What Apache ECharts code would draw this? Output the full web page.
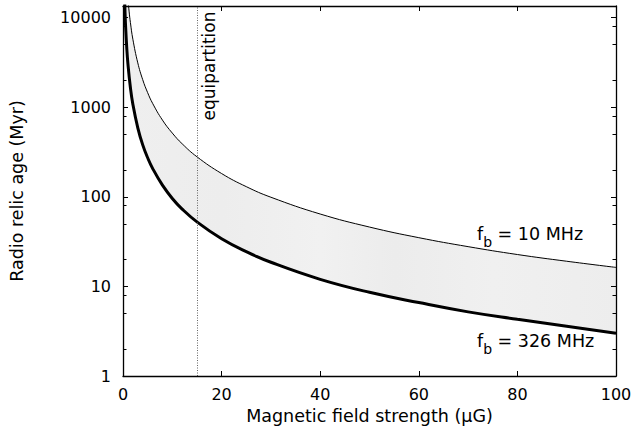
<!DOCTYPE html>
<html>
<head>
<meta charset="utf-8">
<script src="https://cdn.jsdelivr.net/npm/echarts@6/dist/echarts.min.js"></script>
<style>
  html, body { margin: 0; padding: 0; background: #fff; }
  #chart { width: 637px; height: 437px; }
</style>
</head>
<body>
<div id="chart"></div>
<script>
// Spectral age of the relic electrons vs. magnetic field strength,
// for two break frequencies.
const fieldHigh = [0.3, 0.5, 0.75, 1, 1.25, 1.5, 2, 3, 4, 5, 6, 8, 10, 12, 15, 20, 25, 30, 40, 50, 60, 70, 80, 90, 100];
const age10MHz  = [99000, 46000, 25000, 16300, 11600, 8850, 5750, 3130, 2030, 1455, 1107, 719, 515, 391, 280, 182, 130, 99, 64.3, 46, 35, 27.8, 22.7, 19.1, 16.3];

const fieldLow  = [0.3, 0.4, 0.5, 0.75, 1, 1.5, 2, 3, 4, 5, 6, 8, 10, 12, 15, 20, 25, 30, 40, 50, 60, 70, 80, 90, 100];
const age326MHz = [18500, 12000, 8600, 4700, 3050, 1660, 1080, 590, 380, 273, 208, 135, 96, 73, 52.5, 34, 24.4, 18.6, 12, 8.6, 6.6, 5.2, 4.3, 3.6, 3.0];

const equipartitionField = 15;

const xTicks = [0, 20, 40, 60, 80, 100];
const yMajorTicks = [1, 10, 100, 1000, 10000];
const yMinorTicks = [2, 5, 8, 20, 50, 80, 200, 500, 800, 2000, 5000, 8000];

const FONT = 'DejaVu Sans';
const yMin = 1, yMax = 13500;

const chart = echarts.init(document.getElementById('chart'), null, { renderer: 'svg' });

function pairs(xs, ys) { return xs.map((x, i) => [x, ys[i]]); }

const frameLine = { show: true, lineStyle: { color: '#000', width: 1.3 } };

function yAxisDef(opts) {
  return Object.assign({
    type: 'log', logBase: 10, min: yMin, max: yMax, z: 10,
    splitLine: { show: false },
    axisLine: { show: false },
    axisLabel: { show: false },
    axisTick: { show: false }
  }, opts);
}

const option = {
  animation: false,
  backgroundColor: '#fff',
  textStyle: { fontFamily: FONT },
  grid: { left: 122, right: 21, top: 6, bottom: 61, containLabel: false },
  xAxis: [
    {
      type: 'value', min: 0, max: 100, interval: 20, position: 'bottom', z: 10,
      name: 'Magnetic field strength (\u03bcG)',
      nameLocation: 'middle', nameGap: 30,
      nameTextStyle: { fontFamily: FONT, fontSize: 17.5, color: '#000' },
      axisLine: frameLine,
      axisTick: { show: true, inside: true, length: 5, lineStyle: { color: '#000', width: 1 }, customValues: xTicks.slice(1, -1) },
      axisLabel: { fontFamily: FONT, fontSize: 16, color: '#000', margin: 10, customValues: xTicks },
      splitLine: { show: false }
    },
    {
      type: 'value', min: 0, max: 100, interval: 20, position: 'top', z: 10,
      axisLine: frameLine,
      axisTick: { show: true, inside: true, length: 5, lineStyle: { color: '#000', width: 1 }, customValues: xTicks.slice(1, -1) },
      axisLabel: { show: false },
      splitLine: { show: false }
    }
  ],
  yAxis: [
    yAxisDef({
      position: 'left',
      name: 'Radio relic age (Myr)',
      nameLocation: 'middle', nameGap: 97,
      nameTextStyle: { fontFamily: FONT, fontSize: 17.5, color: '#000' },
      axisLine: frameLine,
      axisTick: { show: true, inside: true, length: 5, lineStyle: { color: '#000', width: 1 }, customValues: yMajorTicks },
      axisLabel: {
        show: true, fontFamily: FONT, fontSize: 16, color: '#000', margin: 12,
        customValues: yMajorTicks,
        formatter: (v) => String(Math.round(v))
      }
    }),
    yAxisDef({
      position: 'left',
      axisTick: { show: true, inside: true, length: 3.5, lineStyle: { color: '#000', width: 1 }, customValues: yMinorTicks }
    }),
    yAxisDef({
      position: 'right',
      axisLine: frameLine,
      axisTick: { show: true, inside: true, length: 5, lineStyle: { color: '#000', width: 1 }, customValues: yMajorTicks }
    }),
    yAxisDef({
      position: 'right',
      axisTick: { show: true, inside: true, length: 3.5, lineStyle: { color: '#000', width: 1 }, customValues: yMinorTicks }
    })
  ],
  series: [
    {
      name: 'f_b = 10 MHz',
      type: 'line',
      data: pairs(fieldHigh, age10MHz),
      smooth: 0.45,
      showSymbol: false, symbol: 'none',
      clip: true,
      lineStyle: { color: '#000', width: 1 },
      areaStyle: {
        origin: 'start', opacity: 1,
        color: new echarts.graphic.LinearGradient(0, 0, 1, 0, [
          { offset: 0, color: '#efefef' },
          { offset: 0.2, color: '#ededed' },
          { offset: 0.4, color: '#f1f1f1' },
          { offset: 0.55, color: '#ececec' },
          { offset: 0.75, color: '#f0f0f0' },
          { offset: 1, color: '#ededed' }
        ])
      },
      z: 2
    },
    {
      name: 'f_b = 326 MHz',
      type: 'line',
      data: pairs(fieldLow, age326MHz),
      smooth: 0.45,
      showSymbol: false, symbol: 'none',
      clip: true,
      lineStyle: { color: '#000', width: 3 },
      areaStyle: { origin: 'start', color: '#ffffff', opacity: 1 },
      z: 3,
      markLine: {
        silent: true, symbol: 'none', z: 5,
        label: { show: false },
        lineStyle: { color: '#666', type: [1, 1.5], width: 1 },
        data: [{ xAxis: equipartitionField }]
      }
    }
  ],
  graphic: [
    {
      type: 'text', x: 209, y: 66, rotation: Math.PI / 2, z: 20,
      style: { text: 'equipartition', fontFamily: FONT, fontSize: 17, fill: '#000', align: 'center', verticalAlign: 'middle' }
    },
    {
      type: 'text', x: 477, y: 234, z: 20,
      style: {
        text: '{m|f}{s|b}{m| = 10 MHz}',
        align: 'left', verticalAlign: 'middle',
        rich: {
          m: { fontFamily: FONT, fontSize: 17.5, lineHeight: 30, verticalAlign: 'middle', fill: '#000' },
          s: { fontFamily: FONT, fontSize: 14, lineHeight: 16, verticalAlign: 'bottom', fill: '#000' }
        }
      }
    },
    {
      type: 'text', x: 477, y: 341, z: 20,
      style: {
        text: '{m|f}{s|b}{m| = 326 MHz}',
        align: 'left', verticalAlign: 'middle',
        rich: {
          m: { fontFamily: FONT, fontSize: 17.5, lineHeight: 30, verticalAlign: 'middle', fill: '#000' },
          s: { fontFamily: FONT, fontSize: 14, lineHeight: 16, verticalAlign: 'bottom', fill: '#000' }
        }
      }
    }
  ]
};

chart.setOption(option);
</script>
</body>
</html>
